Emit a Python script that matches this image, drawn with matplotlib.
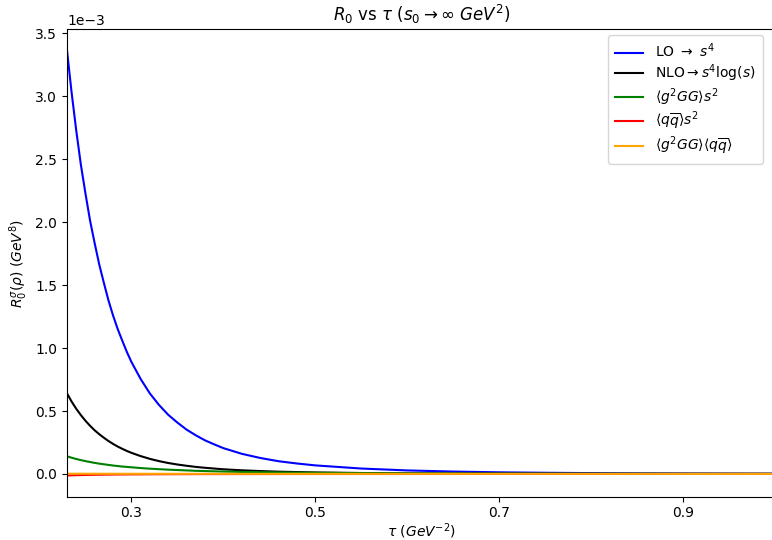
import matplotlib
matplotlib.use("Agg")
import matplotlib.pyplot as plt

# tau values (GeV^-2) and R0 curves (units of 1e-3 GeV^8)
tau = [0.230, 0.235, 0.240, 0.245, 0.250, 0.255, 0.260, 0.265, 0.270, 0.275,
       0.280, 0.285, 0.290, 0.295, 0.300,
       0.31, 0.32, 0.33, 0.34, 0.35, 0.36, 0.37, 0.38, 0.39, 0.40,
       0.42, 0.44, 0.46, 0.48, 0.50,
       0.55, 0.60, 0.65, 0.70, 0.75, 0.80, 0.85, 0.90, 0.95, 1.00]
lo = [3.363, 3.03, 2.73, 2.46, 2.23, 2.015, 1.835, 1.665, 1.52, 1.38,
      1.26, 1.153, 1.06, 0.97, 0.89,
      0.755, 0.64, 0.548, 0.47, 0.408, 0.352, 0.307, 0.267, 0.235, 0.205,
      0.16, 0.127, 0.101, 0.083, 0.068,
      0.043, 0.028, 0.019, 0.013, 0.0093, 0.0067, 0.0049, 0.0037, 0.0028, 0.0022]
nlo = [0.64, 0.575, 0.518, 0.468, 0.423, 0.383, 0.347, 0.316, 0.288, 0.262,
       0.239, 0.218, 0.2, 0.183, 0.168,
       0.142, 0.12, 0.102, 0.087, 0.075, 0.065, 0.056, 0.049, 0.043, 0.037,
       0.029, 0.023, 0.018, 0.015, 0.012,
       0.0075, 0.0048, 0.0032, 0.0022, 0.0015, 0.0011, 0.0008, 0.0006, 0.00045, 0.00035]
gg = [0.14, 0.129, 0.119, 0.110, 0.102, 0.095, 0.088, 0.082, 0.077, 0.072,
      0.067, 0.063, 0.059, 0.056, 0.053,
      0.047, 0.042, 0.038, 0.034, 0.031, 0.028, 0.025, 0.023, 0.021, 0.019,
      0.016, 0.014, 0.012, 0.010, 0.009,
      0.0065, 0.0048, 0.0037, 0.0029, 0.0023, 0.0018, 0.0015, 0.0012, 0.001, 0.0009]
qq = [-0.012, -0.0108, -0.0097, -0.0088, -0.008, -0.0072, -0.0066, -0.006, -0.0055, -0.005,
      -0.0046, -0.0042, -0.0039, -0.0036, -0.0033,
      -0.0029, -0.0025, -0.0022, -0.0019, -0.0017, -0.0015, -0.0013, -0.0012, -0.0011, -0.001,
      -0.0008, -0.0007, -0.0006, -0.0005, -0.0004,
      -0.0003, -0.0002, -0.00015, -0.0001, -0.0001, -0.00008, -0.00006, -0.00005, -0.00004, -0.00003]
ggqq = [0.002, 0.0019, 0.0019, 0.0018, 0.0018, 0.0017, 0.0017, 0.0016, 0.0016, 0.0016,
        0.0015, 0.0015, 0.0015, 0.0014, 0.0014,
        0.0014, 0.0013, 0.0013, 0.0012, 0.0012, 0.0012, 0.0011, 0.0011, 0.0011, 0.0011,
        0.001, 0.001, 0.001, 0.0009, 0.0009,
        0.0008, 0.0008, 0.0007, 0.0007, 0.0006, 0.0006, 0.0006, 0.0005, 0.0005, 0.0005]

scale = 1e-3
fig = plt.figure(figsize=(7.72, 5.40), dpi=100)
ax = fig.add_axes([0.0868, 0.0802, 0.9176, 0.8655])

ax.plot(tau, [v * scale for v in lo], color='blue', label=r'LO $\rightarrow$ $s^4$')
ax.plot(tau, [v * scale for v in nlo], color='black', label=r'NLO$\rightarrow s^4 \log(s)$')
ax.plot(tau, [v * scale for v in gg], color='green', label=r'$\langle g^2GG \rangle s^2$')
ax.plot(tau, [v * scale for v in qq], color='red', label=r'$\langle q\overline{q} \rangle s^2$')
ax.plot(tau, [v * scale for v in ggqq], color='orange',
        label=r'$\langle g^2GG \rangle \langle q\overline{q} \rangle$')

ax.set_xlim(0.23, 1.0)
ax.set_ylim(-0.1806e-3, 3.532e-3)
ax.set_xticks([0.3, 0.5, 0.7, 0.9])
ax.ticklabel_format(axis='y', style='sci', scilimits=(-3, -3))

ax.set_xlabel(r'$\tau\ (GeV^{-2})$', labelpad=0.5)
ax.set_ylabel(r'$R_0^{\sigma}(\rho)\ (GeV^8)$')
ax.set_title(r'$R_0$ vs $\tau$ ($s_0 \rightarrow \infty\ GeV^2$)')
ax.legend(loc='upper right', labelspacing=0.15, borderaxespad=0.4,
          borderpad=0.5, handletextpad=0.9, bbox_to_anchor=(0.99, 1.0))

fig.savefig('out.png', dpi=100)
plt.close()
